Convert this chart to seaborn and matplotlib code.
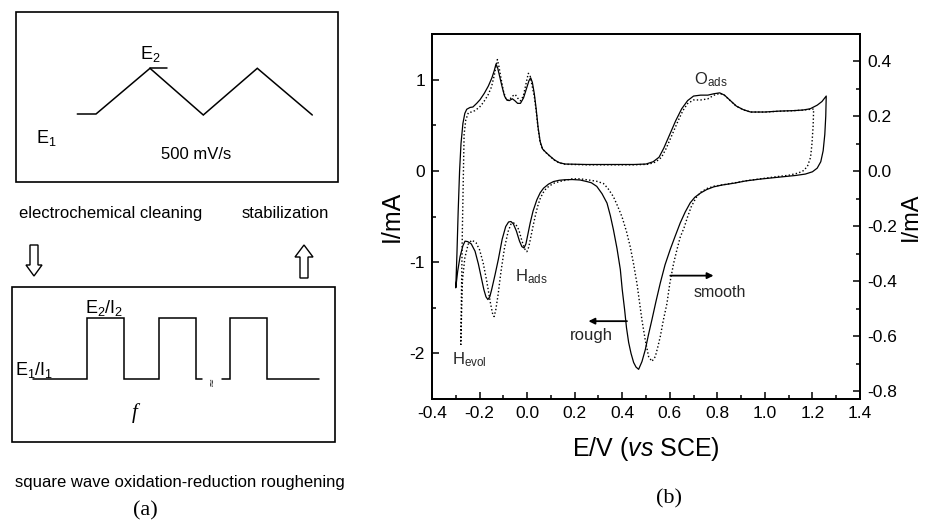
import matplotlib
matplotlib.use('Agg')
import matplotlib.pyplot as plt
from matplotlib.patches import Rectangle, Polygon
from matplotlib.ticker import MultipleLocator, FormatStrFormatter
import seaborn as sns

# ---------------- data (b): cyclic voltammograms ----------------
# rough electrode (solid), left axis, mA; anodic sweep then cathodic sweep
E_rough = [-0.300, -0.295, -0.290, -0.284, -0.278, -0.270, -0.262, -0.254, -0.240, -0.228,
           -0.212, -0.198, -0.180, -0.163, -0.148, -0.138, -0.131, -0.124, -0.115, -0.105,
           -0.095, -0.085, -0.075, -0.062, -0.052, -0.040, -0.028, -0.015, -0.004, 0.008,
           0.015, 0.022, 0.030, 0.038, 0.046, 0.055, 0.065, 0.080, 0.097, 0.115,
           0.135, 0.160, 0.250, 0.350, 0.450, 0.500, 0.530, 0.555, 0.575, 0.600,
           0.625, 0.650, 0.675, 0.700, 0.730, 0.760, 0.785, 0.810, 0.830, 0.855,
           0.880, 0.910, 0.940, 1.000, 1.060, 1.120, 1.160, 1.190, 1.220, 1.240, 1.258,
           1.256, 1.252, 1.245, 1.235, 1.220, 1.200, 1.170, 1.130, 1.080, 1.030,
           0.980, 0.920, 0.870, 0.820, 0.785, 0.755, 0.728, 0.705, 0.686, 0.665,
           0.644, 0.622, 0.602, 0.580, 0.560, 0.542, 0.525, 0.510, 0.497, 0.483,
           0.469, 0.458, 0.448, 0.437, 0.427, 0.418, 0.410, 0.400, 0.392, 0.378,
           0.363, 0.350, 0.336, 0.315, 0.293, 0.270, 0.251, 0.223, 0.190, 0.160,
           0.135, 0.111, 0.090, 0.069, 0.055, 0.041, 0.025, 0.013, 0.003, -0.005,
           -0.013, -0.022, -0.032, -0.045, -0.058, -0.068, -0.078, -0.090, -0.105, -0.121,
           -0.135, -0.149, -0.157, -0.165, -0.173, -0.182, -0.191, -0.205, -0.219, -0.235,
           -0.250, -0.261, -0.270, -0.282, -0.292, -0.300]
I_rough = [-1.28, -0.90, -0.45, 0.00, 0.30, 0.52, 0.63, 0.675, 0.695, 0.70,
           0.74, 0.78, 0.85, 0.93, 1.02, 1.10, 1.17, 1.13, 1.03, 0.92,
           0.82, 0.775, 0.77, 0.79, 0.77, 0.74, 0.74, 0.80, 0.89, 0.99,
           1.02, 0.97, 0.85, 0.68, 0.48, 0.32, 0.24, 0.20, 0.16, 0.12,
           0.09, 0.075, 0.07, 0.07, 0.07, 0.075, 0.10, 0.15, 0.25, 0.40,
           0.55, 0.68, 0.77, 0.82, 0.83, 0.83, 0.845, 0.855, 0.83, 0.77,
           0.71, 0.67, 0.645, 0.645, 0.655, 0.66, 0.667, 0.68, 0.72, 0.76, 0.82,
           0.60, 0.40, 0.22, 0.10, 0.03, -0.01, -0.035, -0.05, -0.063, -0.075,
           -0.09, -0.11, -0.135, -0.155, -0.175, -0.205, -0.245, -0.29, -0.35, -0.45,
           -0.57, -0.72, -0.86, -1.03, -1.23, -1.43, -1.63, -1.80, -1.96, -2.09,
           -2.175, -2.15, -2.10, -2.00, -1.88, -1.72, -1.52, -1.30, -1.08, -0.85,
           -0.645, -0.49, -0.353, -0.25, -0.17, -0.13, -0.117, -0.10, -0.095, -0.097,
           -0.103, -0.117, -0.145, -0.19, -0.24, -0.317, -0.44, -0.57, -0.70, -0.80,
           -0.845, -0.83, -0.77, -0.66, -0.58, -0.555, -0.56, -0.61, -0.75, -0.97,
           -1.14, -1.30, -1.38, -1.41, -1.38, -1.30, -1.19, -1.02, -0.88, -0.80,
           -0.775, -0.77, -0.82, -0.94, -1.10, -1.28]

# smooth electrode (dotted), right axis, mA
E_smooth = [-0.279, -0.276, -0.272, -0.268, -0.265, -0.258, -0.247, -0.235, -0.220, -0.200,
            -0.184, -0.165, -0.150, -0.138, -0.130, -0.125, -0.119, -0.110, -0.100, -0.088,
            -0.075, -0.062, -0.050, -0.040, -0.028, -0.016, -0.005, 0.005, 0.012, 0.020,
            0.030, 0.038, 0.046, 0.055, 0.065, 0.080, 0.097, 0.115, 0.135, 0.160,
            0.250, 0.350, 0.450, 0.510, 0.540, 0.565, 0.585, 0.610, 0.635, 0.655,
            0.675, 0.700, 0.730, 0.760, 0.785, 0.810, 0.830, 0.855, 0.880, 0.910,
            0.940, 1.000, 1.060, 1.120, 1.160, 1.190, 1.205,
            1.203, 1.198, 1.192, 1.180, 1.165, 1.140, 1.100, 1.050, 0.980, 0.920,
            0.870, 0.820, 0.785, 0.757, 0.730, 0.710, 0.690, 0.675, 0.660, 0.644,
            0.630, 0.616, 0.600, 0.588, 0.573, 0.560, 0.549, 0.539, 0.525, 0.511,
            0.497, 0.483, 0.472, 0.462, 0.448, 0.434, 0.418, 0.399, 0.380, 0.363,
            0.340, 0.321, 0.293, 0.265, 0.223, 0.190, 0.167, 0.140, 0.115, 0.095,
            0.080, 0.066, 0.055, 0.045, 0.035, 0.025, 0.015, 0.007, -0.001, -0.010,
            -0.022, -0.035, -0.048, -0.058, -0.068, -0.080, -0.095, -0.110, -0.122, -0.132,
            -0.139, -0.146, -0.155, -0.170, -0.185, -0.200, -0.215, -0.233, -0.248, -0.262,
            -0.272, -0.279]
I_smooth = [-0.631, -0.432, -0.199, 0.001, 0.134, 0.187, 0.214, 0.216, 0.221, 0.234,
            0.251, 0.277, 0.307, 0.350, 0.387, 0.407, 0.384, 0.340, 0.294, 0.260,
            0.260, 0.274, 0.280, 0.267, 0.257, 0.274, 0.317, 0.357, 0.350, 0.317,
            0.274, 0.221, 0.157, 0.104, 0.081, 0.068, 0.054, 0.041, 0.031, 0.026,
            0.024, 0.024, 0.024, 0.026, 0.034, 0.051, 0.084, 0.134, 0.184, 0.221,
            0.247, 0.260, 0.260, 0.264, 0.277, 0.284, 0.277, 0.257, 0.237, 0.224,
            0.216, 0.216, 0.219, 0.221, 0.223, 0.226, 0.227,
            0.167, 0.101, 0.051, 0.021, 0.004, -0.006, -0.014, -0.019, -0.027, -0.034,
            -0.042, -0.049, -0.054, -0.062, -0.076, -0.096, -0.129, -0.165, -0.205, -0.239,
            -0.285, -0.335, -0.408, -0.481, -0.541, -0.601, -0.641, -0.674, -0.691, -0.674,
            -0.614, -0.541, -0.471, -0.408, -0.338, -0.275, -0.219, -0.165, -0.125, -0.092,
            -0.062, -0.044, -0.036, -0.032, -0.027, -0.027, -0.031, -0.036, -0.042, -0.052,
            -0.062, -0.079, -0.099, -0.125, -0.159, -0.199, -0.242, -0.275, -0.292, -0.282,
            -0.252, -0.212, -0.192, -0.187, -0.192, -0.219, -0.278, -0.365, -0.448, -0.505,
            -0.528, -0.515, -0.475, -0.398, -0.332, -0.285, -0.259, -0.250, -0.265, -0.315,
            -0.398, -0.631]

x_ticks = [-0.4, -0.2, 0.0, 0.2, 0.4, 0.6, 0.8, 1.0, 1.2, 1.4]
left_ticks = [-2, -1, 0, 1]
right_ticks = [-0.8, -0.6, -0.4, -0.2, 0.0, 0.2, 0.4]

# schematic (a) waveforms (drawing units, pixels from top-left)
tri_x = [77.3, 96, 150, 203.3, 257.3, 312.3]
tri_y = [114, 114, 68.3, 115, 68.3, 115]
sq1_x = [33.3, 86.7, 86.7, 124, 124, 159, 159, 195.7, 195.7, 201.7]
sq1_y = [379.3, 379.3, 318.3, 318.3, 379.3, 379.3, 318.3, 318.3, 379.3, 379.3]
sq2_x = [221.7, 230, 230, 266.7, 266.7, 319.3]
sq2_y = [379.3, 379.3, 318.3, 318.3, 379.3, 379.3]

# ---------------- style ----------------
sns.set_style('ticks')
plt.rcParams['font.family'] = ['Liberation Sans', 'DejaVu Sans']
plt.rcParams['mathtext.fontset'] = 'custom'
plt.rcParams['mathtext.rm'] = 'Liberation Sans'
plt.rcParams['mathtext.it'] = 'Liberation Sans:italic'
plt.rcParams['mathtext.bf'] = 'Liberation Sans:bold'
plt.rcParams['axes.unicode_minus'] = False

fig = plt.figure(figsize=(9.27, 5.29), dpi=100)
fig.patch.set_facecolor('white')

# ---------------- panel (a): schematic ----------------
sa = fig.add_axes([0, 0, 1, 1])
sa.set_xlim(0, 927)
sa.set_ylim(529, 0)
sa.axis('off')
lk = dict(color='black', lw=1.1, solid_joinstyle='miter')
sa.add_patch(Rectangle((16, 12.3), 322.3, 170, fill=False, ec='black', lw=1.2))
sa.plot(tri_x, tri_y, **lk)
sa.plot([150, 166.7], [68.3, 68.3], **lk)
sa.add_patch(Rectangle((12.3, 286.7), 322.7, 155, fill=False, ec='black', lw=1.2))
sa.plot(sq1_x, sq1_y, **lk)
sa.plot(sq2_x, sq2_y, **lk)
sa.text(211.5, 381, '\u2248', rotation=90, ha='center', va='center', fontsize=8,
        family=['DejaVu Sans'])

# hollow arrows
sa.add_patch(Polygon([(30, 245), (38, 245), (38, 265), (42, 265), (34, 276), (26, 265), (30, 265)],
                     closed=True, fill=False, ec='black', lw=1.0))
sa.add_patch(Polygon([(304, 245), (313, 257), (308, 257), (308, 278), (300, 278), (300, 257), (295, 257)],
                     closed=True, fill=False, ec='black', lw=1.0))

tk = dict(color='black', va='baseline', ha='left')
sa.text(140, 59.3, r'E$_2$', fontsize=13, **tk)
sa.text(36, 143.3, r'E$_1$', fontsize=13, **tk)
sa.text(161.5, 159.3, '500 mV/s', fontsize=12, **tk)
sa.text(19.5, 218, 'electrochemical cleaning', fontsize=12, **tk)
sa.text(242, 218, 'stabilization', fontsize=12, **tk)
sa.text(85, 313.3, r'E$_2$/I$_2$', fontsize=13, **tk)
sa.text(15, 375, r'E$_1$/I$_1$', fontsize=13, **tk)
sa.text(134.5, 418, 'f', fontsize=15, style='italic', family=['Liberation Serif'],
        color='black', ha='center', va='baseline')
sa.text(15, 486.5, 'square wave oxidation-reduction roughening', fontsize=12, **tk)
sa.text(145, 515, '(a)', fontsize=16, family=['Liberation Serif'], color='black',
        ha='center', va='baseline')
sa.text(669, 503, '(b)', fontsize=16, family=['Liberation Serif'], color='black',
        ha='center', va='baseline')

# ---------------- panel (b): CV ----------------
W, H = 927, 529
ax = fig.add_axes([432 / W, (H - 399) / H, (860 - 432) / W, (399 - 34) / H])
ax.set_facecolor('none')
sns.lineplot(x=E_rough, y=I_rough, sort=False, estimator=None, color='black',
             lw=0.9, ax=ax)
ax2 = ax.twinx()
sns.lineplot(x=E_smooth, y=I_smooth, sort=False, estimator=None, color='black',
             lw=1.0, linestyle=(0, (1, 1.6)), ax=ax2)

ax.set_xlim(-0.4, 1.4)
ax.set_ylim(-2.5, 1.5)
ax2.set_ylim(-0.828, 0.5)

ax.set_xticks(x_ticks)
ax.set_yticks(left_ticks)
ax2.set_yticks(right_ticks)
ax.xaxis.set_minor_locator(MultipleLocator(0.1))
ax.yaxis.set_minor_locator(MultipleLocator(0.5))
ax2.yaxis.set_minor_locator(MultipleLocator(0.1))
ax.xaxis.set_major_formatter(FormatStrFormatter('%.1f'))
ax.yaxis.set_major_formatter(FormatStrFormatter('%d'))
ax2.yaxis.set_major_formatter(FormatStrFormatter('%.1f'))

for a in (ax, ax2):
    a.tick_params(which='both', direction='in', width=1.1, labelsize=12.5, pad=5,
                  colors='black')
    a.tick_params(which='major', length=5)
    a.tick_params(which='minor', length=3)
    for s in a.spines.values():
        s.set_linewidth(1.3)
        s.set_color('black')
        s.set_visible(True)
ax.tick_params(top=False, right=False, which='both')
ax2.tick_params(axis='y', left=False, right=True, which='both')

ax.set_xlabel(r'E/V ($\mathit{vs}$ SCE)', fontsize=18, labelpad=10, color='black')
ax.set_ylabel('I/mA', fontsize=18, labelpad=4, color='black')
ax2.set_ylabel('I/mA', fontsize=17, labelpad=2, color='black')

# annotations
ax.text(0.70, 0.95, r'O$_{\mathrm{ads}}$', fontsize=12, ha='left', va='baseline')
ax.text(-0.0505, -1.21, r'H$_{\mathrm{ads}}$', fontsize=12, ha='left', va='baseline')
ax.text(-0.317, -2.12, r'H$_{\mathrm{evol}}$', fontsize=12, ha='left', va='baseline')
ax.text(0.181, -1.855, 'rough', fontsize=12, ha='left', va='baseline')
ax.text(0.70, -1.38, 'smooth', fontsize=11.5, ha='left', va='baseline')
ax.annotate('', xy=(0.258, -1.647), xytext=(0.42, -1.647),
            arrowprops=dict(arrowstyle='-|>', color='black', lw=1.3, mutation_scale=9,
                            shrinkA=0, shrinkB=0))
ax.annotate('', xy=(0.784, -1.148), xytext=(0.602, -1.148),
            arrowprops=dict(arrowstyle='-|>', color='black', lw=1.3, mutation_scale=9,
                            shrinkA=0, shrinkB=0))

fig.savefig('out.png', dpi=100, facecolor='white')
